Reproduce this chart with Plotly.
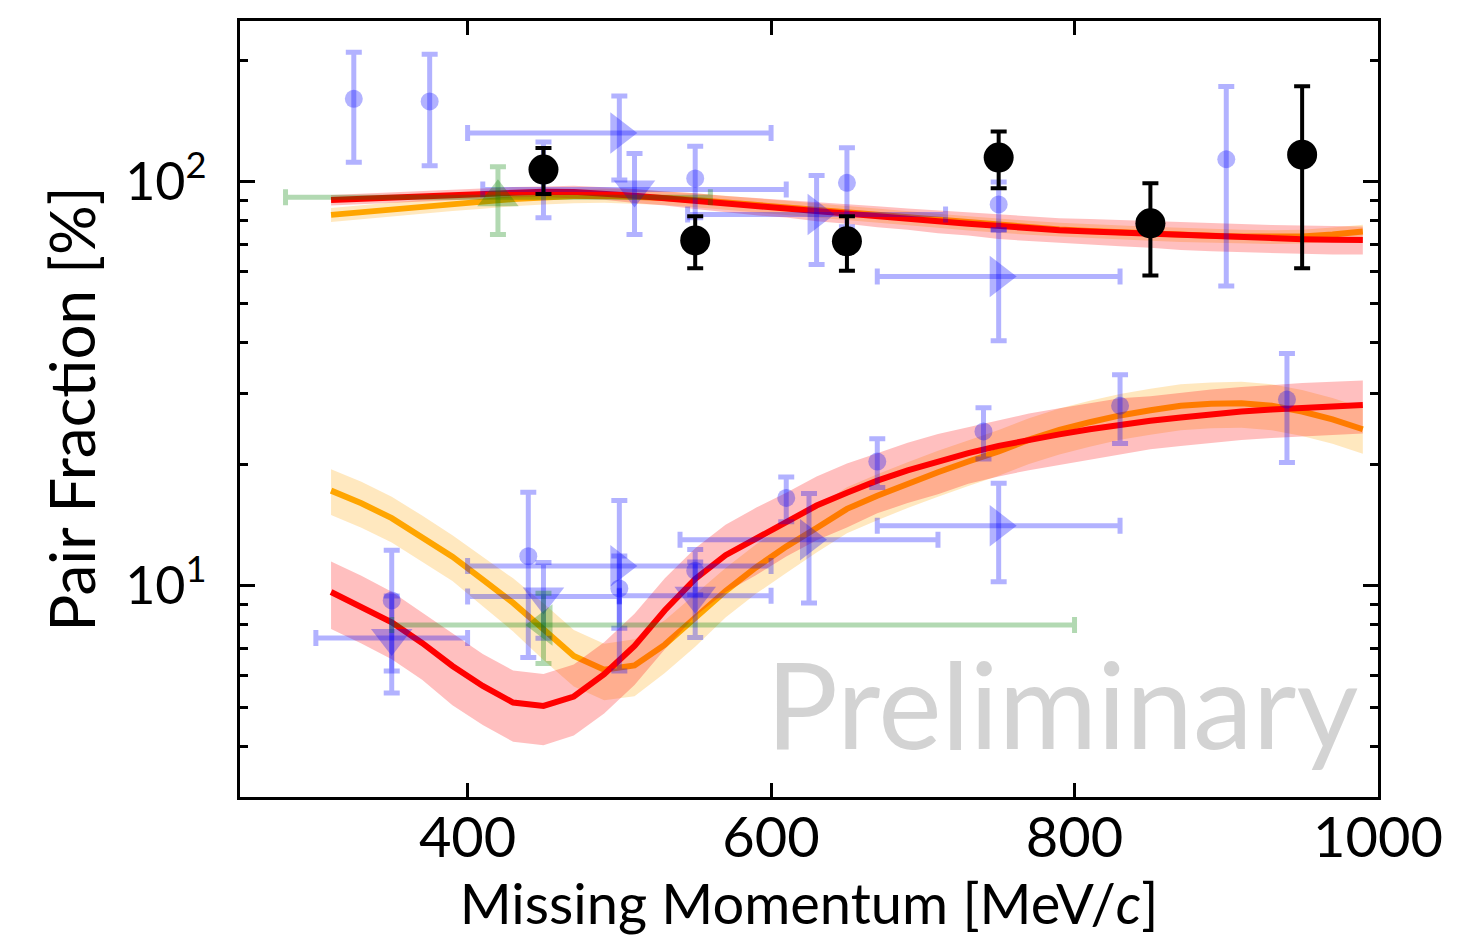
import math
import plotly.graph_objects as go

# ---- model curves (x grid in MeV/c) ----
grid_x = [310, 330, 350, 370, 390, 410, 430, 450, 470, 490, 510, 530, 550, 570, 590,
          610, 630, 650, 670, 690, 710, 730, 750, 770, 790, 810, 830, 850, 870, 890,
          910, 930, 950, 970, 990]

# upper pair (pn-like) curves
up_red = [90.1, 90.8, 91.5, 92.2, 92.9, 93.6, 94.2, 94.5, 94.4, 93.6, 92.3, 91.0, 89.6, 88.2, 86.9,
          85.9, 84.5, 83.3, 82.1, 81.0, 79.8, 78.7, 77.6, 76.7, 75.9, 75.3, 74.8, 74.3, 73.7, 73.2,
          72.7, 72.4, 72.1, 71.9, 71.8]
up_red_hi = [92.8, 93.5, 94.2, 95.0, 95.7, 96.4, 97.0, 97.3, 97.7, 96.9, 96.0, 94.6, 93.6, 92.2, 91.2,
             90.2, 89.1, 87.9, 87.0, 85.9, 85.0, 83.8, 83.0, 82.1, 81.2, 80.9, 80.4, 79.9, 79.6, 79.1,
             78.5, 78.2, 77.9, 77.7, 77.5]
up_red_lo = [87.4, 88.1, 88.8, 89.4, 90.1, 90.8, 91.4, 91.7, 91.1, 90.3, 88.6, 87.4, 85.6, 84.2, 82.6,
             81.6, 79.9, 78.7, 77.2, 76.1, 74.6, 73.6, 72.2, 71.3, 70.6, 69.7, 69.2, 68.7, 67.8, 67.3,
             66.9, 66.6, 66.3, 66.1, 66.1]
up_orange = [82.8, 84.2, 85.5, 86.8, 88.1, 89.3, 90.6, 91.6, 92.2, 92.4, 92.0, 91.2, 90.1, 88.8, 87.5,
             86.3, 85.0, 83.8, 82.5, 81.3, 80.1, 79.0, 77.9, 77.0, 76.2, 75.5, 74.9, 74.4, 73.9, 73.5,
             73.2, 73.0, 73.2, 74.0, 75.3]
up_orange_hi = [86.1, 87.6, 88.9, 90.3, 91.6, 92.9, 94.2, 95.3, 95.9, 96.1, 95.7, 94.8, 93.7, 92.4, 91.0,
                89.8, 88.4, 87.2, 85.8, 84.6, 83.3, 82.2, 81.0, 80.1, 79.2, 78.5, 77.9, 77.4, 76.9, 76.4,
                76.1, 75.9, 76.1, 77.0, 78.3]
up_orange_lo = [79.5, 80.8, 82.1, 83.3, 84.6, 85.7, 87.0, 87.9, 88.5, 88.7, 88.3, 87.6, 86.5, 85.2, 84.0,
                82.8, 81.6, 80.4, 79.2, 78.0, 76.9, 75.8, 74.8, 73.9, 73.2, 72.5, 71.9, 71.4, 70.9, 70.6,
                70.3, 70.1, 70.3, 71.0, 72.3]

# lower pair (pp-like) curves
lo_red = [9.65, 8.89, 8.12, 7.22, 6.33, 5.65, 5.14, 5.04, 5.32, 6.04, 7.1, 8.7, 10.4, 11.9, 13.1,
          14.4, 15.8, 17.0, 18.2, 19.3, 20.3, 21.3, 22.2, 23.0, 23.7, 24.4, 25.1, 25.6, 26.1, 26.6,
          27.0, 27.3, 27.6, 27.8, 28.0]
lo_red_hi = [11.48, 10.58, 9.66, 8.59, 7.60, 6.78, 6.17, 6.05, 6.38, 7.25, 8.52, 10.44, 12.38, 14.16, 15.59,
             16.99, 18.64, 20.06, 21.29, 22.58, 23.75, 24.71, 25.75, 26.68, 27.49, 28.30, 29.12, 29.44, 30.02, 30.59,
             31.05, 31.40, 31.74, 31.97, 32.2]
lo_red_lo = [7.82, 7.20, 6.58, 5.85, 5.06, 4.52, 4.11, 4.03, 4.26, 4.83, 5.68, 6.96, 8.42, 9.64, 10.61,
             11.81, 12.96, 13.94, 15.11, 16.02, 16.85, 17.89, 18.65, 19.32, 19.91, 20.50, 21.08, 21.76, 22.19, 22.61,
             22.95, 23.21, 23.46, 23.63, 23.8]
lo_orange = [17.2, 16.0, 14.7, 13.2, 11.8, 10.35, 9.07, 7.8, 6.7, 6.2, 6.35, 7.15, 8.3, 9.7, 11.1,
             12.5, 13.9, 15.5, 16.7, 17.9, 19.1, 20.3, 21.5, 23.0, 24.3, 25.4, 26.4, 27.2, 27.9, 28.2,
             28.3, 27.9, 27.0, 25.8, 24.4]
lo_orange_hi = [19.44, 18.08, 16.61, 14.92, 13.33, 11.80, 10.43, 9.05, 7.77, 7.19, 7.37, 8.22, 9.55, 11.06, 12.65,
                14.25, 15.71, 17.52, 18.87, 20.23, 21.58, 22.94, 24.30, 25.99, 27.46, 28.70, 29.83, 30.74, 31.53, 31.87,
                31.98, 31.53, 30.51, 29.15, 27.57]
lo_orange_lo = [14.96, 13.92, 12.79, 11.48, 10.27, 8.90, 7.71, 6.55, 5.63, 5.21, 5.33, 6.08, 7.06, 8.34, 9.55,
                10.75, 12.09, 13.49, 14.53, 15.57, 16.62, 17.66, 18.71, 20.01, 21.14, 22.10, 22.97, 23.66, 24.27, 24.53,
                24.62, 24.27, 23.49, 22.45, 21.23]

# ---- data points ----
# blue circles (vertical errors only)
circ_x = [325, 375, 450, 550, 650, 750, 900, 350, 440, 500, 550, 610, 670, 740, 830, 940]
circ_y = [160.4, 158.1, 103.5, 101.9, 99.4, 87.9, 113.7, 9.2, 11.84, 9.85, 10.9, 16.5, 20.3, 24.1, 27.9, 28.9]
circ_err = [48.7, 48.6, 22.0, 20.5, 22.0, 12.0, 58.5, 3.05, 5.2, 2.0, 1.4, 2.1, 2.8, 3.5, 5.4, 8.7]

# blue right-pointing triangles
rtri_x = [500, 630, 750, 500, 625, 750]
rtri_xerr = [100, 85, 80, 100, 85, 80]
rtri_y = [132.0, 83.0, 58.3, 11.2, 13.0, 14.08]
rtri_yerr = [31.0, 20.6, 17.9, 5.05, 3.93, 3.85]

# blue down-pointing triangles
dtri_x = [510, 350, 450, 550]
dtri_xerr = [100, 50, 50, 50]
dtri_y = [95.7, 7.43, 9.41, 9.45]
dtri_yerr = [21.7, 2.0, 2.0, 2.0]

# green points
gup_x = [420]
gup_xerr = [140]
gup_y = [91.5]
gup_yerr = [17.5]
gleft_x = [450]
gleft_xerr_minus = [100]
gleft_xerr_plus = [350]
gleft_y = [8.0]
gleft_yerr = [1.58]

# black points (this measurement)
blk_x = [450, 550, 650, 750, 850, 950]
blk_y = [107.2, 71.6, 71.2, 114.8, 78.9, 116.7]
blk_err = [14.0, 10.5, 11.0, 18.4, 20.3, 55.6]

FONT = 'Lato'
BLUE = 'rgba(0,0,255,0.3)'
GREEN = 'rgba(0,128,0,0.3)'

fig = go.Figure()


def add_band(x, lo, hi, fill):
    fig.add_trace(go.Scatter(x=x, y=lo, mode='lines', line=dict(width=0),
                             showlegend=False, hoverinfo='skip'))
    fig.add_trace(go.Scatter(x=x, y=hi, mode='lines', line=dict(width=0),
                             fill='tonexty', fillcolor=fill, showlegend=False, hoverinfo='skip'))


def add_curve(x, y, color):
    fig.add_trace(go.Scatter(x=x, y=y, mode='lines', line=dict(color=color, width=6),
                             showlegend=False))


# orange (below), then red on top
for lo, hi, c in [(up_orange_lo, up_orange_hi, up_orange), (lo_orange_lo, lo_orange_hi, lo_orange)]:
    add_band(grid_x, lo, hi, 'rgba(255,165,0,0.25)')
    add_curve(grid_x, c, '#ffa500')
for lo, hi, c in [(up_red_lo, up_red_hi, up_red), (lo_red_lo, lo_red_hi, lo_red)]:
    add_band(grid_x, lo, hi, 'rgba(255,0,0,0.25)')
    add_curve(grid_x, c, '#ff0000')

err_style = dict(thickness=5, width=8)

fig.add_trace(go.Scatter(
    x=circ_x, y=circ_y, mode='markers',
    marker=dict(symbol='circle', size=18, color=BLUE, line=dict(width=0)),
    error_y=dict(type='data', array=circ_err, color=BLUE, **err_style),
    showlegend=False))

fig.add_trace(go.Scatter(
    x=rtri_x, y=rtri_y, mode='markers',
    marker=dict(symbol='triangle-right', size=36, color=BLUE, line=dict(width=0)),
    error_x=dict(type='data', array=rtri_xerr, color=BLUE, **err_style),
    error_y=dict(type='data', array=rtri_yerr, color=BLUE, **err_style),
    showlegend=False))

fig.add_trace(go.Scatter(
    x=dtri_x, y=dtri_y, mode='markers',
    marker=dict(symbol='triangle-down', size=36, color=BLUE, line=dict(width=0)),
    error_x=dict(type='data', array=dtri_xerr, color=BLUE, **err_style),
    error_y=dict(type='data', array=dtri_yerr, color=BLUE, **err_style),
    showlegend=False))

fig.add_trace(go.Scatter(
    x=gup_x, y=gup_y, mode='markers',
    marker=dict(symbol='triangle-up', size=36, color=GREEN, line=dict(width=0)),
    error_x=dict(type='data', array=gup_xerr, color=GREEN, **err_style),
    error_y=dict(type='data', array=gup_yerr, color=GREEN, **err_style),
    showlegend=False))

fig.add_trace(go.Scatter(
    x=gleft_x, y=gleft_y, mode='markers',
    marker=dict(symbol='triangle-left', size=36, color=GREEN, line=dict(width=0)),
    error_x=dict(type='data', array=gleft_xerr_plus, arrayminus=gleft_xerr_minus,
                 color=GREEN, **err_style),
    error_y=dict(type='data', array=gleft_yerr, color=GREEN, **err_style),
    showlegend=False))

fig.add_trace(go.Scatter(
    x=blk_x, y=blk_y, mode='markers',
    marker=dict(symbol='circle', size=30, color='black', line=dict(width=0)),
    error_y=dict(type='data', array=blk_err, color='black', thickness=4, width=8),
    showlegend=False))

fig.add_annotation(
    text='Preliminary', xref='paper', yref='paper', x=0.984, y=0.026,
    xanchor='right', yanchor='bottom', showarrow=False,
    font=dict(family=FONT, size=120, color='#d3d3d3'))

minor_y = [3, 4, 5, 6, 7, 8, 9, 20, 30, 40, 50, 60, 70, 80, 90, 200]

# page body adds an 8px offset, so margins are shifted to keep the frame in place
fig.update_layout(
    width=1470, height=947,
    margin=dict(l=232, r=100, t=10, b=158),
    paper_bgcolor='white', plot_bgcolor='white',
    font=dict(family=FONT, color='black'),
    xaxis=dict(
        range=[250, 1000], tickvals=[400, 600, 800, 1000],
        ticks='inside', ticklen=14, tickwidth=3, tickcolor='black',
        showline=True, linecolor='black', linewidth=3, mirror='ticks',
        showgrid=False, zeroline=False,
        tickfont=dict(size=56), ticklabelstandoff=-10,
        title=dict(text='Missing Momentum [MeV/<i>c</i>]', font=dict(size=56), standoff=0),
    ),
    yaxis=dict(
        type='log', range=[math.log10(3), math.log10(250)],
        tickvals=[10, 100], ticktext=['10<sup>1</sup>', '10<sup>2</sup>'],
        ticks='inside', ticklen=15, tickwidth=3, tickcolor='black',
        minor=dict(tickvals=minor_y, ticks='inside', ticklen=8, tickwidth=2.5, tickcolor='black'),
        showline=True, linecolor='black', linewidth=3, mirror='ticks',
        showgrid=False, zeroline=False,
        tickfont=dict(size=52), ticklabelstandoff=20,
        title=dict(text='Pair Fraction [%]', font=dict(size=62), standoff=10),
    ),
)

fig.write_html('out.html')
